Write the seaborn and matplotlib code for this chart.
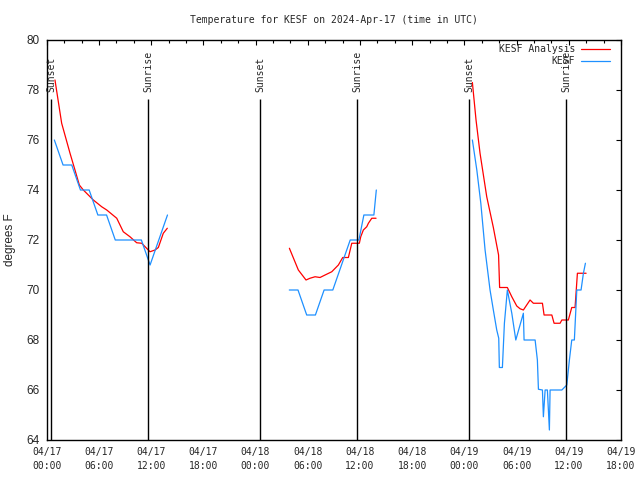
import pandas as pd
import matplotlib.pyplot as plt
import matplotlib.dates as mdates
import seaborn as sns

sns.set_theme(style="white")
plt.rcParams['font.family'] = ['DejaVu Sans Mono', 'DejaVu Sans']

START = pd.Timestamp("2024-04-17 00:00")

# hours after 04/17 00:00 UTC and temperatures (F)
ana_hours_1 = [0.95, 1.72, 2.68, 3.25, 3.75, 4.21, 5.36, 6.32, 6.90, 8.05, 8.80, 9.57,
               10.34, 10.92, 11.87, 12.45, 12.83, 13.40, 13.86]
ana_temps_1 = [78.4, 76.67, 75.47, 74.8, 74.2, 74.0, 73.6, 73.33, 73.2, 72.87, 72.33, 72.13,
               71.89, 71.87, 71.53, 71.6, 71.7, 72.27, 72.47]
ana_hours_2 = [27.89, 28.92, 29.80, 30.26, 30.84, 31.41, 31.99, 32.76, 33.52, 34.02, 34.67,
               35.06, 35.93, 36.09, 36.39, 36.78, 36.97, 37.36, 37.85]
ana_temps_2 = [71.67, 70.8, 70.4, 70.47, 70.53, 70.5, 70.6, 70.73, 71.0, 71.3, 71.3,
               71.87, 71.87, 72.13, 72.4, 72.53, 72.67, 72.87, 72.87]
ana_hours_3 = [48.92, 49.34, 49.80, 50.57, 51.33, 51.93, 52.05, 52.94, 53.45, 54.02, 54.40,
               54.78, 55.55, 55.93, 56.97, 57.16, 58.05, 58.31, 59.0, 59.20, 59.95, 60.34,
               60.72, 60.99, 61.99]
ana_temps_3 = [78.3, 76.8, 75.47, 73.73, 72.5, 71.4, 70.1, 70.1, 69.73, 69.36, 69.25,
               69.2, 69.6, 69.47, 69.47, 69.0, 69.0, 68.67, 68.67, 68.8, 68.8, 69.3,
               69.3, 70.67, 70.67]

obs_hours_1 = [0.88, 1.88, 2.88, 3.88, 4.88, 5.88, 6.88, 7.88, 8.88, 9.88, 10.88, 11.88,
               12.88, 13.88]
obs_temps_1 = [76, 75, 75, 74, 74, 73, 73, 72, 72, 72, 72, 71, 72, 73]
obs_hours_2 = [27.88, 28.88, 29.88, 30.88, 31.88, 32.88, 33.88, 34.88, 35.88, 36.45,
               37.6, 37.88]
obs_temps_2 = [70, 70, 69, 69, 70, 70, 71, 72, 72, 73, 73, 74]
obs_hours_3 = [48.92, 49.43, 49.89, 50.38, 50.95, 51.33, 51.72, 51.95, 52.02, 52.37, 52.60,
               52.94, 53.45, 53.91, 54.78, 54.86, 56.13, 56.39, 56.51, 56.97, 57.08, 57.28,
               57.54, 57.77, 57.85, 59.20, 59.77, 60.07, 60.34, 60.64, 60.92, 61.41, 61.68,
               61.91]
obs_temps_3 = [76.0, 74.8, 73.47, 71.6, 70.0, 69.2, 68.4, 68.07, 66.9, 66.9, 68.67,
               70.0, 69.07, 68.0, 69.07, 68.0, 68.0, 67.2, 66.03, 66.0, 64.93, 66.0,
               66.0, 64.4, 66.0, 66.0, 66.2, 67.2, 68.0, 68.0, 70.0, 70.0, 70.67,
               71.07]

sun_labels = ["Sunset", "Sunrise", "Sunset", "Sunrise", "Sunset", "Sunrise"]
sun_times = ["2024-04-17 00:32", "2024-04-17 11:39", "2024-04-18 00:33",
             "2024-04-18 11:40", "2024-04-19 00:32", "2024-04-19 11:43"]

series_names = ["KESF Analysis", "KESF"]
colors = {"KESF Analysis": "#ff0000", "KESF": "#1e90ff"}

# build long-form table, one unit per continuous piece of line
parts = [
    ("KESF Analysis", ana_hours_1, ana_temps_1), ("KESF Analysis", ana_hours_2, ana_temps_2),
    ("KESF Analysis", ana_hours_3, ana_temps_3), ("KESF", obs_hours_1, obs_temps_1),
    ("KESF", obs_hours_2, obs_temps_2), ("KESF", obs_hours_3, obs_temps_3),
]
frames = []
for i, (name, hrs, temps) in enumerate(parts):
    frames.append(pd.DataFrame({
        "time": START + pd.to_timedelta(hrs, unit="h"),
        "temp": temps,
        "series": name,
        "piece": i,
    }))
df = pd.concat(frames, ignore_index=True)

fig = plt.figure(figsize=(6.4, 4.8), dpi=100)
ax = fig.add_axes([46.7 / 640, 40 / 480, 574.3 / 640, 400 / 480])

sns.lineplot(data=df, x="time", y="temp", hue="series", hue_order=series_names,
             units="piece", estimator=None, palette=colors, linewidth=0.9,
             sort=False, ax=ax)

# sunrise / sunset markers
sun_dt = pd.to_datetime(sun_times)
ax.vlines(sun_dt, 64, 77.65, color="black", linewidth=1)
for t, lab in zip(sun_dt, sun_labels):
    ax.text(t, 77.9, lab, rotation=90, ha="center", va="bottom", fontsize=7)

ax.set_xlim(pd.Timestamp("2024-04-17 00:00"), pd.Timestamp("2024-04-19 18:00"))
ax.set_ylim(64, 80)
ax.set_yticks(range(64, 81, 2))
ax.xaxis.set_major_locator(mdates.HourLocator(byhour=[0, 6, 12, 18]))
ax.xaxis.set_minor_locator(mdates.HourLocator(byhour=range(0, 24, 2)))
ax.xaxis.set_major_formatter(mdates.DateFormatter("%m/%d\n%H:%M"))

ax.tick_params(axis="both", which="both", direction="in", top=True, right=True,
               color="black")
ax.tick_params(axis="both", which="major", length=3.6, width=0.8)
ax.tick_params(axis="x", which="minor", length=1.8, width=0.8)
ax.tick_params(axis="x", labelsize=7, pad=5)
ax.tick_params(axis="y", labelsize=8.5, pad=5)
for lbl in ax.get_xticklabels():
    lbl.set_linespacing(1.5)
for lbl in ax.get_yticklabels():
    lbl.set_family("Liberation Sans")

for sp in ax.spines.values():
    sp.set_color("black")
    sp.set_linewidth(1)

ax.set_xlabel("")
ax.set_ylabel("degrees F", fontsize=8.5, family="Liberation Sans", va="center")
ax.yaxis.set_label_coords(-0.064, 0.5)
ax.set_title("Temperature for KESF on 2024-Apr-17 (time in UTC)", fontsize=7, pad=12)

old = ax.get_legend()
handles = old.legend_handles
labels = [t.get_text() for t in old.get_texts()]
ax.legend(handles, labels, loc="upper right", bbox_to_anchor=(0.981, 0.99),
          frameon=False, markerfirst=False, borderaxespad=0, borderpad=0,
          handlelength=3, handletextpad=0.6, labelspacing=0.2, fontsize=7)

fig.savefig("out.png", dpi=100)
